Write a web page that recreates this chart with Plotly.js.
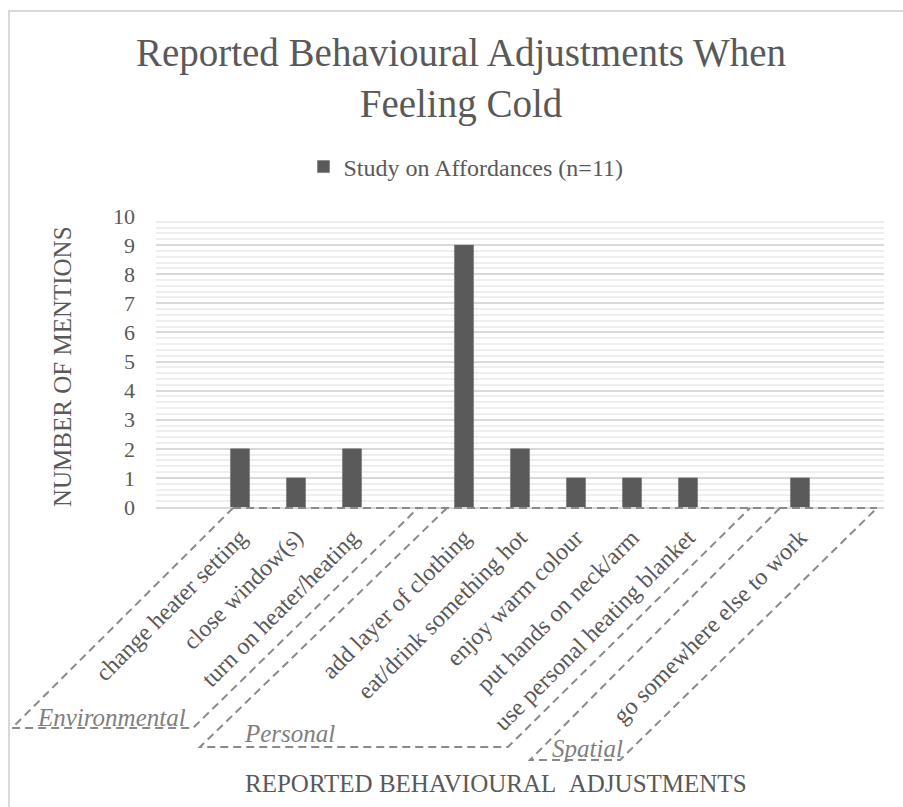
<!DOCTYPE html>
<html><head><meta charset="utf-8">
<script src="https://cdn.plot.ly/plotly-3.0.1.min.js"></script>
<style>html,body{margin:0;padding:0;background:#fff}</style>
</head><body>
<div id="chart" style="width:903px;height:807px"></div>
<script>
// ---- data ----
const categories = ['', 'change heater setting', 'close window(s)', 'turn on heater/heating', '',
  'add layer of clothing', 'eat/drink something hot', 'enjoy warm colour', 'put hands on neck/arm',
  'use personal heating blanket', '', 'go somewhere else to work', ''];
const mentions = [null, 2, 1, 2, null, 9, 2, 1, 1, 1, null, 1, null];
const groupLabels = ['Environmental', 'Personal', 'Spatial'];
const yTickValues = [0, 1, 2, 3, 4, 5, 6, 7, 8, 9, 10];
const seriesName = 'Study on Affordances (n=11)';
const chartTitle = 'Reported Behavioural Adjustments When<br>Feeling Cold';
const xTitle = 'REPORTED BEHAVIOURAL\u00a0\u00a0ADJUSTMENTS';
const yTitle = 'NUMBER OF MENTIONS';

// ---- layout helpers (pixel -> paper) ----
const W = 903, H = 807, L = 156, R = 19, T = 216, B = 300;
const PW = W - L - R, PH = H - T - B;
const px = x => (x - L) / PW;
const py = y => (H - B - y) / PH;
const pth = pts => pts.map((p, i) => (i ? 'L' : 'M') + px(p[0]).toFixed(4) + ',' + py(p[1]).toFixed(4)).join(' ');

const serif = 'Liberation Serif, Times New Roman, serif';
const grey = '#595959';
const dashStyle = {color: '#8a8a8a', width: 2, dash: '8px,5px'};

const idx = categories.map((c, i) => i);

const trace = {
  type: 'bar', x: idx, y: mentions, name: seriesName,
  marker: {color: '#5a5a5a', line: {color: '#6a6a6a', width: 0.5}},
  width: 0.34, hoverinfo: 'y'
};

const shapes = [
  // chart border (left & top)
  {type: 'path', xref: 'paper', yref: 'paper', path: pth([[9, 830], [9, 11], [920, 11]]), line: {color: '#d9d9d9', width: 2}},
  // top dashed line along axis
  {type: 'path', xref: 'paper', yref: 'paper', path: pth([[233, 508], [877, 508]]), line: dashStyle},
  // Environmental
  {type: 'path', xref: 'paper', yref: 'paper', path: pth([[233, 508], [12, 728], [193, 728], [418, 508]]), line: dashStyle},
  // Personal
  {type: 'path', xref: 'paper', yref: 'paper', path: pth([[447, 508], [200, 747], [508, 747], [750, 508]]), line: dashStyle},
  // Spatial
  {type: 'path', xref: 'paper', yref: 'paper', path: pth([[780, 508], [530, 760], [620, 760], [877, 508]]), line: dashStyle}
];

const groupPos = [[111, 717], [289, 733], [587, 748]];
const annotations = groupLabels.map((g, i) => ({
  text: g, xref: 'paper', yref: 'paper', x: px(groupPos[i][0]), y: py(groupPos[i][1]),
  xanchor: 'center', yanchor: 'middle', showarrow: false,
  font: {family: serif, size: 25, color: '#7f7f7f', style: 'italic'}
}));
annotations.push({
  text: xTitle, xref: 'paper', yref: 'paper', x: px(496), y: py(783), xanchor: 'center', yanchor: 'middle',
  showarrow: false, font: {family: serif, size: 25, color: grey}
});
annotations.push({
  text: yTitle, xref: 'paper', yref: 'paper', x: px(62), y: py(366), xanchor: 'center', yanchor: 'middle',
  textangle: -90, showarrow: false, font: {family: serif, size: 25, color: grey}
});

const layout = {
  width: W, height: H,
  margin: {l: L, r: R, t: T, b: B, pad: 0},
  paper_bgcolor: '#fff', plot_bgcolor: '#fff',
  title: {text: chartTitle, x: 461 / W, xanchor: 'center', xref: 'container', y: 1 - 66 / H, yanchor: 'middle', yref: 'container',
    font: {family: serif, size: 39, color: grey}},
  showlegend: true,
  legend: {orientation: 'h', x: px(466), xanchor: 'center', y: py(167), yanchor: 'middle',
    font: {family: serif, size: 24, color: grey}, bgcolor: 'rgba(0,0,0,0)'},
  xaxis: {type: 'linear', range: [-0.5, 12.5], tickvals: idx, ticktext: categories, tickangle: -45,
    showgrid: false, zeroline: false, showline: true, linecolor: '#d9d9d9', linewidth: 2,
    ticks: '', ticklabelstandoff: 5, tickfont: {family: serif, size: 24, color: grey}, fixedrange: true},
  yaxis: {range: [0, 10], tickvals: yTickValues, showgrid: true, gridcolor: '#d9d9d9', gridwidth: 2,
    minor: {dtick: 0.2, showgrid: true, gridcolor: '#eeeeee', gridwidth: 2},
    zeroline: false, showline: false, ticks: '', ticklabelstandoff: 20,
    tickfont: {family: serif, size: 22, color: grey}, fixedrange: true},
  shapes: shapes,
  annotations: annotations,
  bargap: 0.66
};

Plotly.newPlot('chart', [trace], layout, {displayModeBar: false, staticPlot: true});
</script>
</body></html>
